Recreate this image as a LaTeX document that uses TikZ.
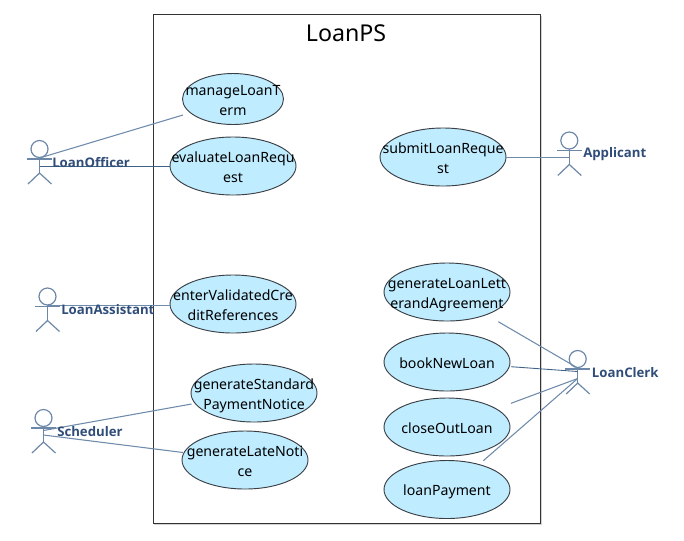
\documentclass[tikz,border=0pt]{standalone}
\usepackage{fontspec}
\setmainfont{Noto Sans}
\newfontfamily\namefont{Open Sans}
\usetikzlibrary{positioning}
\usetikzlibrary{calc}
\usetikzlibrary{shapes.geometric}
\usetikzlibrary{shadows}
\definecolor{ucfill}{HTML}{BFEDFF}
\definecolor{ucline}{HTML}{3A3F45}
\definecolor{actline}{HTML}{6D87A8}
\definecolor{actname}{HTML}{2F4D78}
\definecolor{conline}{HTML}{6F8BAB}
\definecolor{condark}{HTML}{3F6288}
\newcommand{\uctext}[1]{\smash{\makebox[0pt]{\raisebox{-.4em}{\begin{tabular}{@{}c@{}}#1\end{tabular}}}}}
\tikzset{sysbox/.style={draw=black!80, fill=white, line width=0.8pt, minimum width=290.6pt, minimum height=382pt, inner sep=0pt, drop shadow={shadow xshift=1pt, shadow yshift=-1pt, opacity=0.35}}}
\tikzset{usecase/.style={draw=ucline, fill=ucfill, ellipse, line width=0.7pt, minimum width=94.5pt, minimum height=43.5pt, inner sep=0pt, font=\fontsize{10.6}{15}\selectfont}}
\tikzset{actname/.style={anchor=west, inner sep=0pt, text=actname, font=\namefont\fontsize{9.9}{12}\selectfont\bfseries}}
\tikzset{con/.style={draw=conline, line width=0.8pt}}
\tikzset{condk/.style={draw=condark, line width=0.65pt}}
\tikzset{actor/.pic={
        \draw[actline, line width=0.9pt] (0,0) circle (8.5);
        \draw[actline, line width=0.9pt] (-12.5,10) -- (12.5,10);
        \draw[actline, line width=0.9pt] (0,8.5) -- (0,24);
        \draw[actline, line width=0.9pt] (-11.5,35) -- (0,24) -- (12,35);
        \coordinate (-neck) at (0,9);
        \coordinate (-chest) at (0,12.5);
        \coordinate (-waist) at (0,17);
        \coordinate (-belly) at (0,19.5);
}}

\begin{document}
\begin{tikzpicture}[x=0.75pt, y=-0.75pt]
        \useasboundingbox (0,0) rectangle (684,540);

        \node[sysbox] (loanps) at (346.8,269.2) {};
        \node[font=\fontsize{17.4}{22}\selectfont] (title) at (346,33) {LoanPS};

        \node[usecase, minimum width=75.75pt, minimum height=38.25pt] (manage) at (233,99) {\uctext{manageLoanT\\erm}};
        \node[usecase] (evaluate) at (233,166) {\uctext{evaluateLoanRequ\\est}};
        \node[usecase] (enter) at (233,304) {\uctext{enterValidatedCre\\ditReferences}};
        \node[usecase] (standard) at (254,393) {\uctext{generateStandard\\PaymentNotice}};
        \node[usecase] (late) at (245,460) {\uctext{generateLateNoti\\ce}};

        \node[usecase] (submit) at (443,157) {\uctext{submitLoanReque\\st}};
        \node[usecase] (letter) at (447,292) {\uctext{generateLoanLett\\erandAgreement}};
        \node[usecase] (book) at (447,362) {\uctext{bookNewLoan}};
        \node[usecase] (close) at (447,427) {\uctext{closeOutLoan}};
        \node[usecase] (payment) at (447,489.5) {\uctext{loanPayment}};

        \pic (officer) at (39.5,149) {actor};
        \pic (assistant) at (47.5,296.5) {actor};
        \pic (scheduler) at (43.5,418) {actor};
        \pic (applicant) at (569.3,140.5) {actor};
        \pic (clerk) at (577.7,359) {actor};

        \draw[con] (officer-neck) -- ($(manage.center) + (-50,16)$);
        \draw[condk] (officer-waist) -- (evaluate.west |- officer-waist);
        \draw[con] (assistant-neck) -- (enter.west |- assistant-neck);
        \draw[con] (scheduler-chest) -- ($(standard.center) + (-62.5,11)$);
        \draw[con] (scheduler-waist) -- ($(late.center) + (-62,-7.5)$);

        \draw[con] (applicant-waist) -- (submit.east |- applicant-waist);
        \draw[con] (clerk-neck) -- ($(letter.center) + (51.3,29.7)$);
        \draw[condk] (clerk-chest) -- ($(book.center) + (64,4.7)$);
        \draw[con] (clerk-belly) -- ($(close.center) + (64,-23.7)$);
        \draw[con] (clerk-belly) -- ($(payment.center) + (36.3,-28.8)$);

        \node[actname] (officername) at (52,163) {LoanOfficer};
        \node[actname] (assistantname) at (61,310) {LoanAssistant};
        \node[actname] (schedulername) at (57,432) {Scheduler};
        \node[actname] (applicantname) at (583,154) {Applicant};
        \node[actname] (clerkname) at (591.7,373) {LoanClerk};
\end{tikzpicture}
\end{document}
